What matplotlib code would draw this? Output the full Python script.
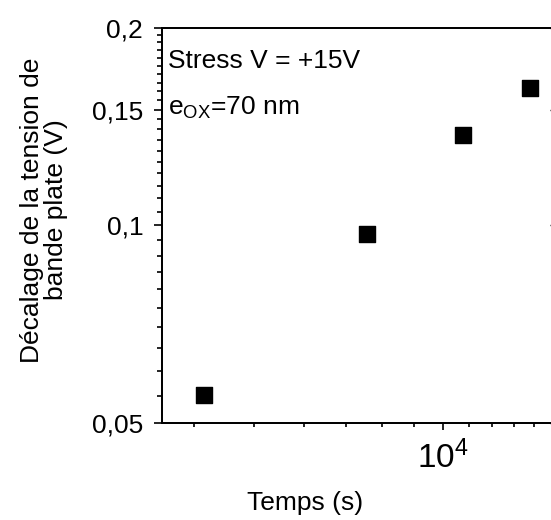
import numpy as np
import matplotlib
matplotlib.use("Agg")
import matplotlib.pyplot as plt
from matplotlib.ticker import NullFormatter

plt.rcParams["font.family"] = ["Liberation Sans", "DejaVu Sans"]
plt.rcParams["mathtext.fontset"] = "custom"
plt.rcParams["mathtext.rm"] = "Liberation Sans"
plt.rcParams["mathtext.it"] = "Liberation Sans:italic"
plt.rcParams["mathtext.bf"] = "Liberation Sans:bold"

# data
temps = [4150, 7570, 10750, 13790]          # s
decalage = [0.0553, 0.0970, 0.1375, 0.1618]  # V

y_major = [0.05, 0.1, 0.15, 0.2]
y_labels = ["0,05", "0,1", "0,15", "0,2"]
y_minor = [round(v, 3) for v in np.arange(0.055, 0.2, 0.005) if round(v, 3) not in (0.1, 0.15)]

x_major = [1e4]
x_labels = ["$10^4$"]
x_minor = [4000, 5000, 6000, 7000, 8000, 9000, 11000, 12000, 13000, 14000, 15000]

fig = plt.figure(figsize=(5.51, 5.2), dpi=100)
# right spine falls just outside the image, as in the original crop
ax = fig.add_axes([0.2946, 0.186, 0.7191, 0.7608])

ax.scatter(temps, decalage, marker="s", s=11.5 ** 2, color="black", zorder=3)

ax.set_xscale("log")
ax.set_yscale("log")
ax.set_xlim(3566, 15300)
ax.set_ylim(0.05, 0.2)

ax.set_yticks(y_major, labels=y_labels)
ax.set_yticks(y_minor, minor=True)
ax.yaxis.set_minor_formatter(NullFormatter())
ax.set_xticks(x_major, labels=x_labels)
ax.set_xticks(x_minor, minor=True)
ax.xaxis.set_minor_formatter(NullFormatter())

ax.tick_params(axis="y", which="major", direction="out", length=5.8, width=1.2,
               pad=8, labelsize=19, right=False)
ax.tick_params(axis="y", which="minor", direction="out", length=3.8, width=1.2, right=False)
ax.tick_params(axis="x", which="major", direction="out", length=5.3, width=1.2,
               pad=7, labelsize=24, top=False)
ax.tick_params(axis="x", which="minor", direction="out", length=3.0, width=1.2, top=False)

# inward ticks on the right side
ax2 = ax.twinx()
ax2.set_yscale("log")
ax2.set_ylim(ax.get_ylim())
ax2.set_yticks(y_major, labels=[])
ax2.set_yticks([], minor=True)
ax2.tick_params(axis="y", which="major", direction="in", length=6.5, width=1.0)

for a in (ax, ax2):
    for sp in a.spines.values():
        sp.set_linewidth(1.3)

ax.set_xlabel("Temps (s)", fontsize=19)
ax.xaxis.set_label_coords(0.36, -0.172)

fig.text(44 / 551, 1 - 210 / 520, "Décalage de la tension de\nbande plate (V)",
         rotation=90, ha="center", va="center", multialignment="center",
         fontsize=19, linespacing=1.0)

ax.text(0.0144, 0.898, "Stress V = +15V", transform=ax.transAxes,
        fontsize=19, ha="left", va="baseline")
ax.text(0.0144, 0.779, r"e$_{\mathrm{OX}}$=70 nm", transform=ax.transAxes,
        fontsize=19, ha="left", va="baseline")

fig.savefig("out.png", dpi=100)
